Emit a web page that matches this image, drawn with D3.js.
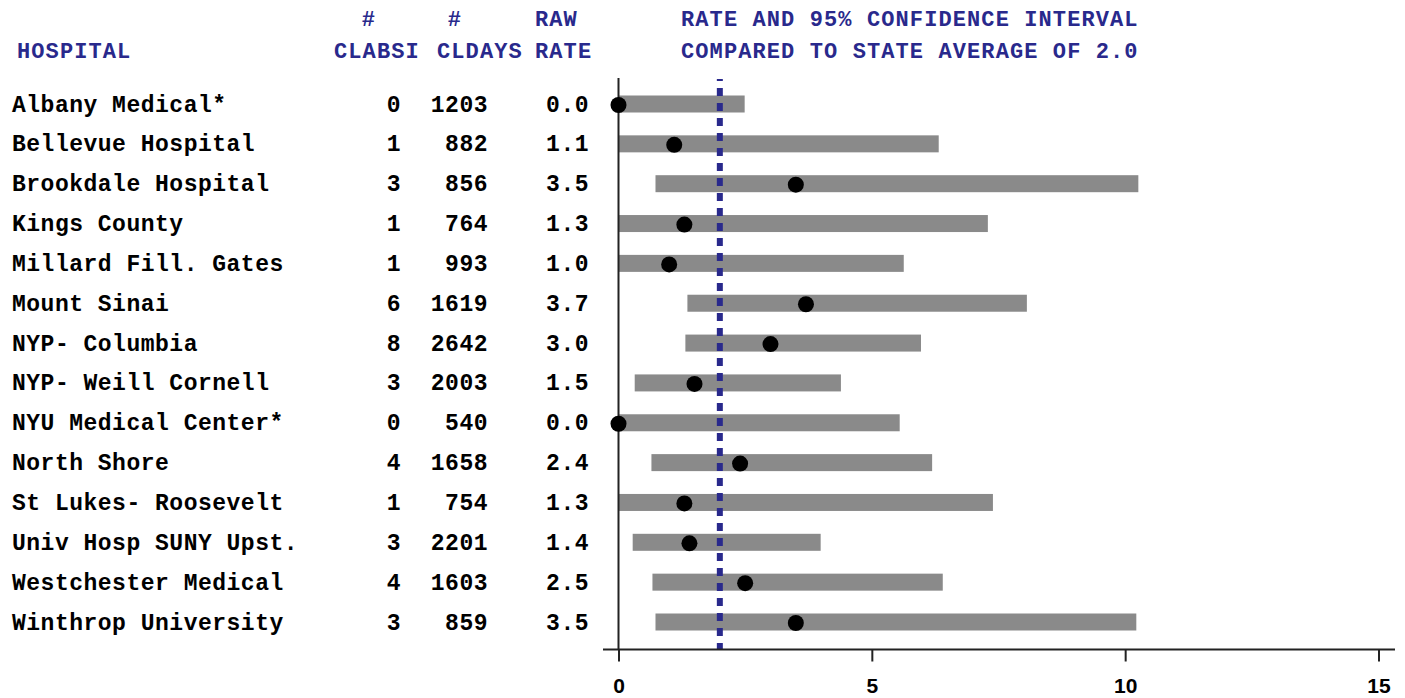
<!DOCTYPE html>
<html>
<head>
<meta charset="utf-8">
<script src="https://cdn.jsdelivr.net/npm/d3@7"></script>
<style>
  html, body { margin: 0; padding: 0; background: #ffffff; }
  svg { display: block; }
  .mono { font-family: "Liberation Mono", "DejaVu Sans Mono", monospace; font-weight: bold; }
</style>
</head>
<body>
<svg id="chart" width="1405" height="698"></svg>
<script>
// CLABSI rates by hospital with 95% confidence intervals
const hospitals = [
  "Albany Medical*", "Bellevue Hospital", "Brookdale Hospital", "Kings County",
  "Millard Fill. Gates", "Mount Sinai", "NYP- Columbia", "NYP- Weill Cornell",
  "NYU Medical Center*", "North Shore", "St Lukes- Roosevelt", "Univ Hosp SUNY Upst.",
  "Westchester Medical", "Winthrop University"
];
const clabsi   = [0, 1, 3, 1, 1, 6, 8, 3, 0, 4, 1, 3, 4, 3];
const cldays   = [1203, 882, 856, 764, 993, 1619, 2642, 2003, 540, 1658, 754, 2201, 1603, 859];
const rawRate  = [0.0, 1.1, 3.5, 1.3, 1.0, 3.7, 3.0, 1.5, 0.0, 2.4, 1.3, 1.4, 2.5, 3.5];
const ciLower  = [0.0, 0.0, 0.73, 0.0, 0.0, 1.36, 1.32, 0.32, 0.0, 0.65, 0.0, 0.28, 0.67, 0.73];
const ciUpper  = [2.49, 6.32, 10.26, 7.29, 5.63, 8.06, 5.97, 4.39, 5.55, 6.19, 7.39, 3.99, 6.40, 10.22];
const xTicks   = [0, 5, 10, 15];
const stateAverage = 2.0;

const headerRow1 = [
  { text: "#", x: 369, anchor: "middle" },
  { text: "#", x: 455, anchor: "middle" },
  { text: "RAW", x: 535, anchor: "start" },
  { text: "RATE AND 95% CONFIDENCE INTERVAL", x: 681, anchor: "start" }
];
const headerRow2 = [
  { text: "HOSPITAL", x: 17, anchor: "start" },
  { text: "CLABSI", x: 334, anchor: "start" },
  { text: "CLDAYS", x: 437, anchor: "start" },
  { text: "RATE", x: 535, anchor: "start" },
  { text: "COMPARED TO STATE AVERAGE OF 2.0", x: 681, anchor: "start" }
];

const svg = d3.select("#chart");
const blue = "#29298c";
const fontSize = 23;
const spacing = 0.5;

const x = d3.scaleLinear().domain([0, 15]).range([618.5, 1378.5]);
const y = d3.scalePoint().domain(hospitals).range([104, 622]);

const rows = hospitals.map((h, i) => ({
  name: h, clabsi: clabsi[i], cldays: cldays[i], rate: rawRate[i],
  lo: ciLower[i], hi: ciUpper[i]
}));

// Column headers
function header(items, baseline) {
  svg.append("g").selectAll("text").data(items).join("text")
    .attr("class", "mono")
    .attr("x", d => d.x)
    .attr("y", baseline)
    .attr("text-anchor", d => d.anchor)
    .attr("fill", blue)
    .style("font-size", "22px")
    .style("letter-spacing", "1.1px")
    .text(d => d.text);
}
header(headerRow1, 26);
header(headerRow2, 58);

// Table columns
const table = svg.append("g");
const textRow = (sel) => sel
  .attr("class", "mono")
  .attr("fill", "#000")
  .style("font-size", fontSize + "px")
  .style("letter-spacing", spacing + "px")
  .attr("y", d => y(d.name) + 7.5);

table.selectAll("text.name").data(rows).join("text")
  .call(textRow).attr("x", 12).attr("text-anchor", "start").text(d => d.name);
table.selectAll("text.clabsi").data(rows).join("text")
  .call(textRow).attr("x", 401).attr("text-anchor", "end").text(d => d.clabsi);
table.selectAll("text.cldays").data(rows).join("text")
  .call(textRow).attr("x", 488).attr("text-anchor", "end").text(d => d.cldays);
table.selectAll("text.rate").data(rows).join("text")
  .call(textRow).attr("x", 589).attr("text-anchor", "end").text(d => d.rate.toFixed(1));

// Confidence interval bars
const barH = 17;
svg.append("g").selectAll("rect").data(rows).join("rect")
  .attr("x", d => x(d.lo))
  .attr("y", d => y(d.name) - barH / 2)
  .attr("width", d => x(d.hi) - x(d.lo))
  .attr("height", barH)
  .attr("fill", "#8a8a8a");

// Vertical axis line at zero
svg.append("line")
  .attr("x1", x(0)).attr("x2", x(0))
  .attr("y1", 78).attr("y2", 650)
  .attr("stroke", "#222").attr("stroke-width", 2);

// State average reference line
svg.append("line")
  .attr("x1", x(stateAverage)).attr("x2", x(stateAverage))
  .attr("y1", 79).attr("y2", 649)
  .attr("stroke", blue).attr("stroke-width", 6)
  .attr("stroke-dasharray", "8,7")
  .attr("stroke-dashoffset", 6);

// Rate points
svg.append("g").selectAll("circle").data(rows).join("circle")
  .attr("cx", d => x(d.rate))
  .attr("cy", d => y(d.name) + 1)
  .attr("r", 8)
  .attr("fill", "#000");

// Bottom axis
const axisG = svg.append("g")
  .attr("transform", "translate(0,649.5)")
  .call(d3.axisBottom(x).tickValues(xTicks).tickSize(12).tickSizeOuter(0).tickFormat(d3.format("d")));
axisG.select(".domain").remove();
axisG.selectAll(".tick line").attr("stroke", "#222").attr("stroke-width", 2);
axisG.selectAll(".tick text")
  .attr("y", 0).attr("dy", 0)
  .attr("transform", "translate(0,43)")
  .attr("fill", "#000")
  .style("font-family", "'Liberation Sans', Arial, sans-serif")
  .style("font-weight", "bold")
  .style("font-size", "21px");
axisG.append("line")
  .attr("x1", 603).attr("x2", 1395)
  .attr("y1", 0).attr("y2", 0)
  .attr("stroke", "#222").attr("stroke-width", 2);
</script>
</body>
</html>
